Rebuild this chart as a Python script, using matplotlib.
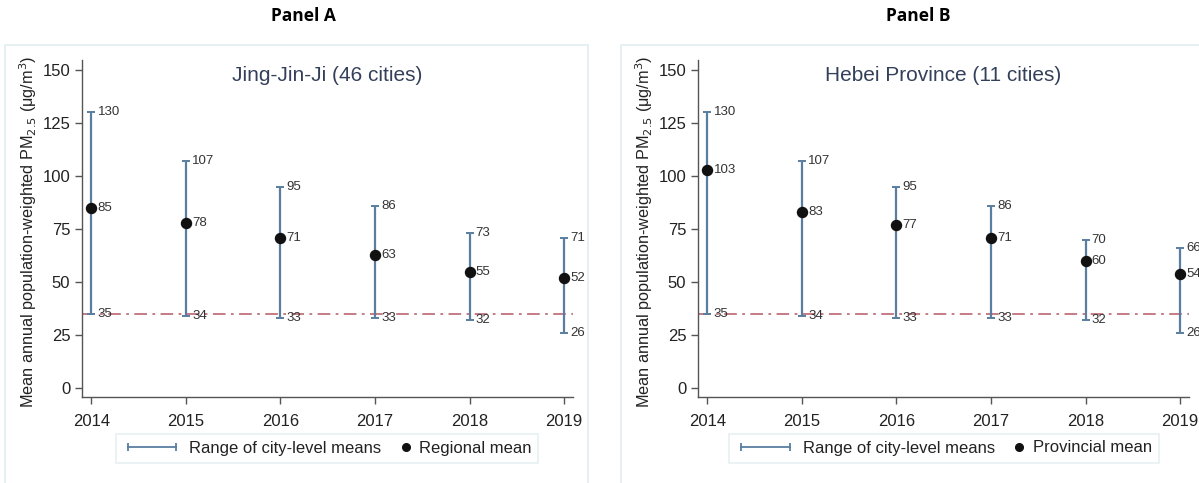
import matplotlib
matplotlib.use("Agg")
import matplotlib.pyplot as plt
from matplotlib.lines import Line2D
from matplotlib.patches import Rectangle

plt.rcParams["font.family"] = ["Liberation Sans", "DejaVu Sans"]

years = [2014, 2015, 2016, 2017, 2018, 2019]

# Panel A: Jing-Jin-Ji (46 cities)
jjj_high = [130, 107, 95, 86, 73, 71]
jjj_mean = [85, 78, 71, 63, 55, 52]
jjj_low = [35, 34, 33, 33, 32, 26]

# Panel B: Hebei Province (11 cities)
hebei_high = [130, 107, 95, 86, 70, 66]
hebei_mean = [103, 83, 77, 71, 60, 54]
hebei_low = [35, 34, 33, 33, 32, 26]

who_line = 35
yticks = [0, 25, 50, 75, 100, 125, 150]

W, H = 1199, 483
fig = plt.figure(figsize=(W / 100, H / 100), dpi=100)
fig.patch.set_facecolor("white")

BAR = "#5a7ea0"
REF = "#c0727c"
TXT = "#333333"
FRAME = "#e2ecef"


def px_axes(left, top, right, bottom):
    return fig.add_axes([left / W, 1 - bottom / H, (right - left) / W, (bottom - top) / H])


class DotAtRight:
    """Legend handler that puts a single dot at the right end of the handle box."""

    def legend_artist(self, legend, orig_handle, fontsize, handlebox):
        x = handlebox.width - handlebox.xdescent - 3.5
        y = handlebox.height / 2 - handlebox.ydescent
        dot = Line2D([x], [y], marker="o", markersize=5.5, color="#111111",
                     linestyle="none")
        handlebox.add_artist(dot)
        return dot


# light panel frames
for x0, x1 in [(5, 588), (621, 1260)]:
    fig.add_artist(Rectangle((x0 / W, -0.05), (x1 - x0) / W, 1.05 - 45 / H,
                             transform=fig.transFigure, fill=False,
                             edgecolor=FRAME, linewidth=1.2))


def draw_panel(ax, high, mean, low, title, mean_label):
    lo_err = [m - l for m, l in zip(mean, low)]
    hi_err = [h - m for h, m in zip(high, mean)]
    ax.axhline(who_line, color=REF, linestyle=(0, (7, 3, 1.5, 3)), linewidth=1.3, zorder=1)
    ax.errorbar(years, mean, yerr=[lo_err, hi_err], fmt="none", ecolor=BAR,
                elinewidth=1.6, capsize=3.2, capthick=1.4, zorder=2)
    ax.scatter(years, mean, s=52, color="#111111", zorder=3)
    for x, h, m, l in zip(years, high, mean, low):
        for v in (h, m, l):
            ax.annotate(str(v), (x, v), xytext=(4.5, 0), textcoords="offset points",
                        va="center", ha="left", fontsize=9.5, color=TXT)
    ax.set_xlim(2013.895, 2019.095)
    ax.set_ylim(-4.1, 154.7)
    ax.set_xticks(years)
    ax.set_yticks(yticks)
    ax.tick_params(axis="both", labelsize=12, colors="#555555", labelcolor="#222222",
                   length=5, width=1)
    ax.tick_params(axis="x", pad=7)
    ax.tick_params(axis="y", pad=3)
    for s in ("top", "right"):
        ax.spines[s].set_visible(False)
    for s in ("left", "bottom"):
        ax.spines[s].set_color("#555555")
        ax.spines[s].set_linewidth(1)
    ax.set_ylabel(r"Mean annual population-weighted PM$_{2.5}$ (μg/m$^3$)",
                  fontsize=11.7, color="#222222")
    ax.yaxis.set_label_coords(-0.086, 0.49)
    ax.text(0.5, 0.955, title, transform=ax.transAxes, ha="center", va="center",
            fontsize=15, color="#34405a")
    h1 = Line2D([], [], color=BAR, linewidth=1.3, marker="|", markersize=6,
                markeredgewidth=1.3)
    h2 = Line2D([], [], color="#111111", marker="o", linestyle="none")
    return [h1, h2], ["Range of city-level means", mean_label]


axA = px_axes(81.5, 60, 573, 397)
hA, lA = draw_panel(axA, jjj_high, jjj_mean, jjj_low, "Jing-Jin-Ji (46 cities)", "Regional mean")
axB = px_axes(697.5, 60, 1189, 397)
hB, lB = draw_panel(axB, hebei_high, hebei_mean, hebei_low, "Hebei Province (11 cities)",
                    "Provincial mean")

for hs, ls, cx in [(hA, lA, 327), (hB, lB, 944)]:
    leg = fig.legend(hs, ls, loc="center", bbox_to_anchor=(cx / W, 1 - 448 / H),
                     ncol=2, fontsize=12, numpoints=2,
                     handler_map={hs[1]: DotAtRight()},
                     handlelength=3.5, handletextpad=0.5, columnspacing=-1.75,
                     frameon=True, fancybox=False, borderpad=0.42, borderaxespad=0)
    leg.get_frame().set_edgecolor(FRAME)
    leg.get_frame().set_linewidth(1.2)
    for t in leg.get_texts():
        t.set_color("#222222")

fig.text(303 / W, 1 - 16 / H, "Panel A", ha="center", va="center", fontsize=12.5,
         fontweight="bold", family=["Open Sans", "DejaVu Sans"])
fig.text(918 / W, 1 - 16 / H, "Panel B", ha="center", va="center", fontsize=12.5,
         fontweight="bold", family=["Open Sans", "DejaVu Sans"])

fig.savefig("out.png", dpi=100)
